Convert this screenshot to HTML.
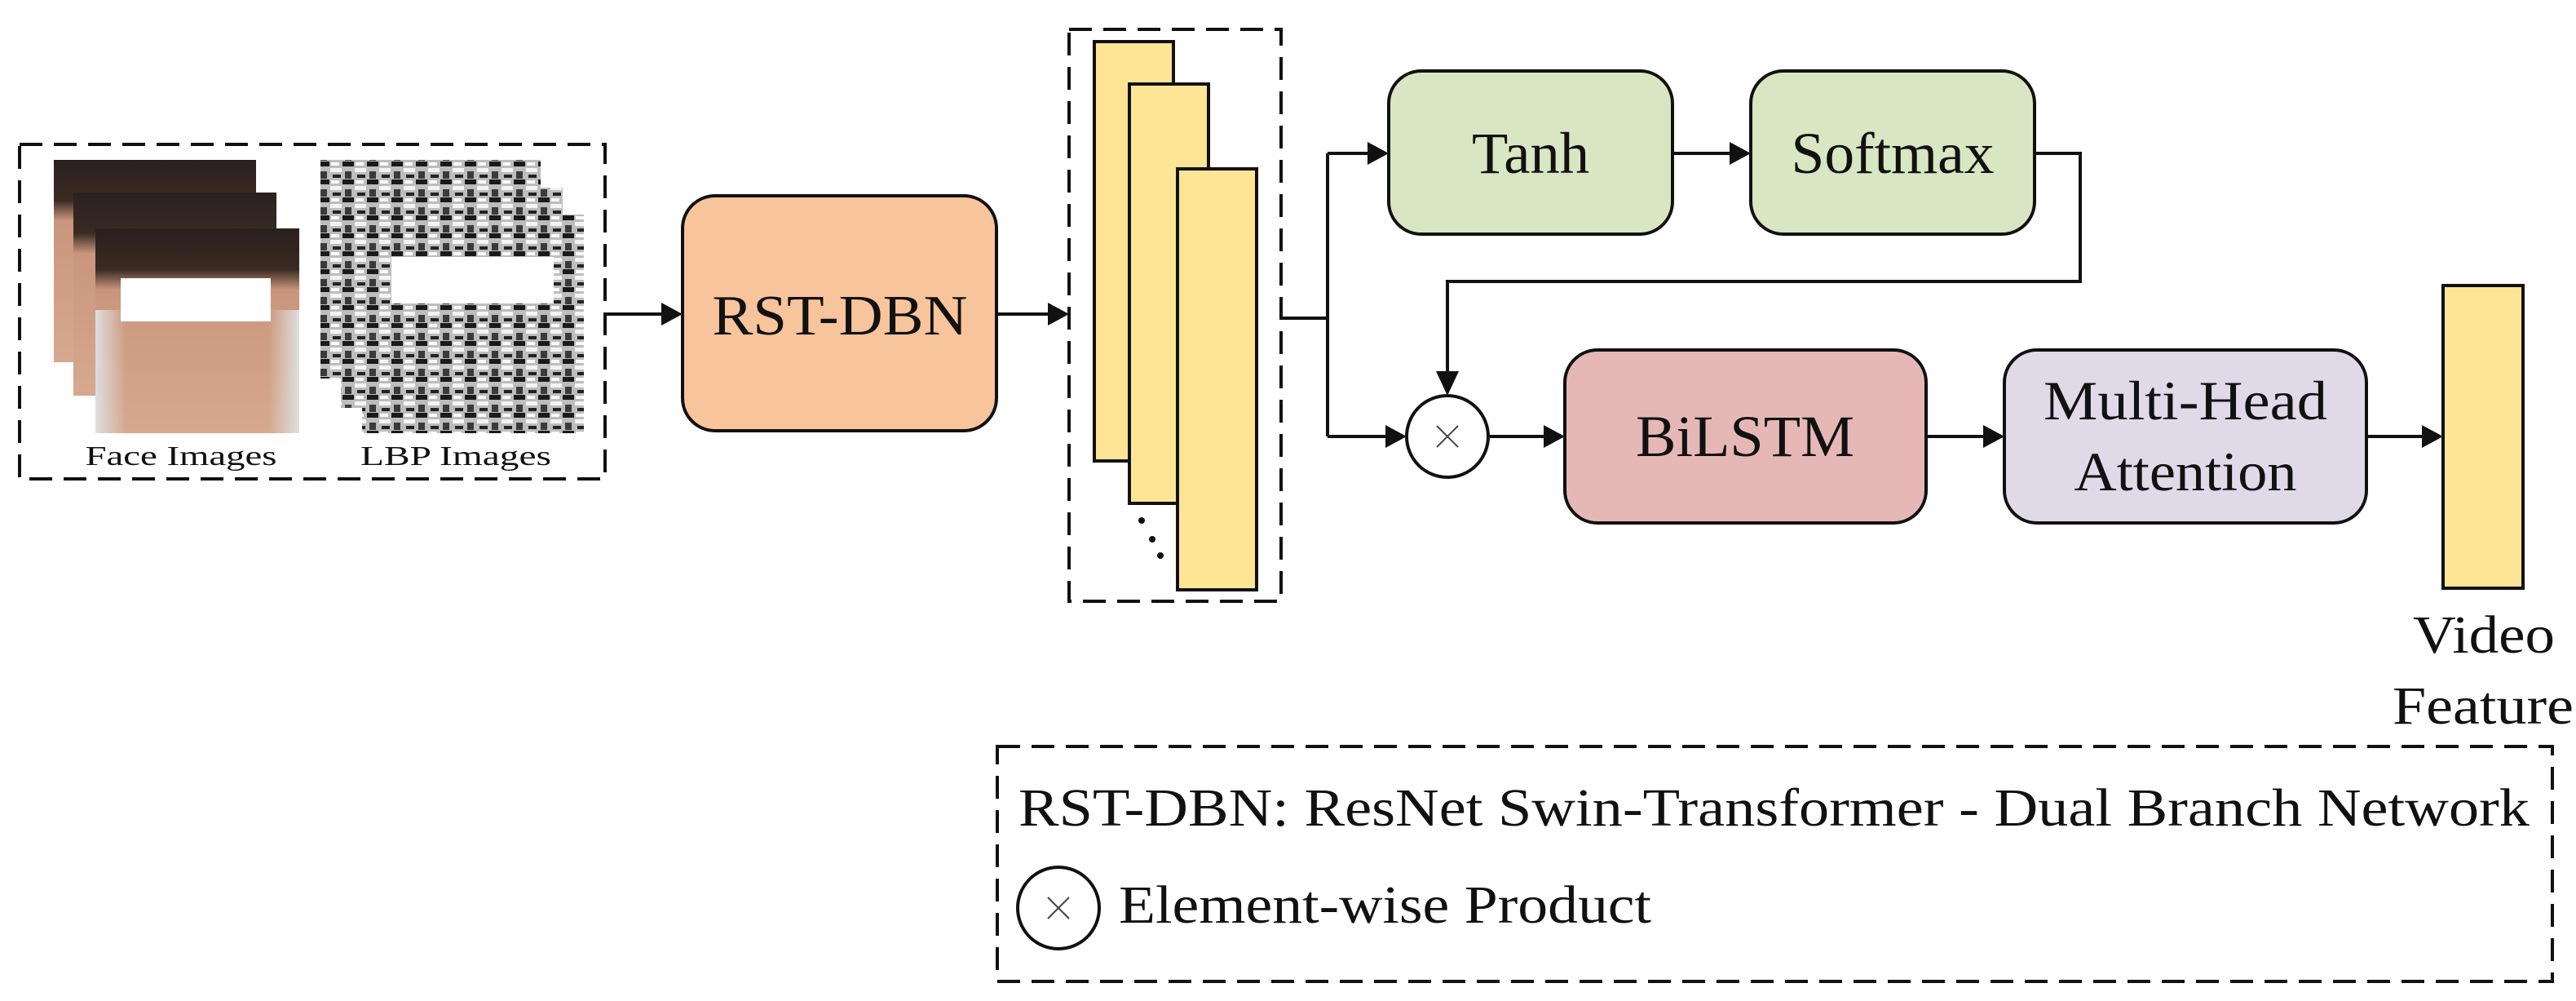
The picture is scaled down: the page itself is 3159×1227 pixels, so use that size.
<!DOCTYPE html>
<html><head><meta charset="utf-8"><style>
html,body{margin:0;padding:0;background:#fff;}
svg{display:block;}
text{font-family:"Liberation Serif","Times New Roman",serif;fill:#111;}
</style></head><body>
<svg width="3159" height="1227" viewBox="0 0 3159 1227" xmlns="http://www.w3.org/2000/svg">
<defs>
<pattern id="lbp" width="30" height="22" patternUnits="userSpaceOnUse">
<rect width="30" height="22" fill="#bdbdbd"/>
<rect x="0" y="0" width="14" height="6" fill="#1a1a1a"/>
<rect x="15" y="8" width="14" height="5" fill="#f4f4f4"/>
<rect x="3" y="12" width="8" height="9" fill="#3a3a3a"/>
<rect x="18" y="16" width="10" height="4" fill="#222"/>
<rect x="16" y="1" width="10" height="4" fill="#fafafa"/>
</pattern>
<linearGradient id="skin" x1="0" y1="0" x2="0" y2="1">
<stop offset="0" stop-color="#2a2020"/><stop offset="0.2" stop-color="#3a2a22"/>
<stop offset="0.3" stop-color="#c9967c"/><stop offset="1" stop-color="#d6a98f"/>
</linearGradient>
<linearGradient id="bg" x1="0" y1="0" x2="1" y2="0">
<stop offset="0" stop-color="#dedede"/><stop offset="0.15" stop-color="#dedede" stop-opacity="0"/>
<stop offset="0.85" stop-color="#dedede" stop-opacity="0"/><stop offset="1" stop-color="#dedede"/>
</linearGradient>
</defs>
<g fill="none" stroke="#111" stroke-width="4" stroke-dasharray="28,14">
<rect x="24" y="177" width="718" height="410"/>
<rect x="1311" y="36" width="260" height="701"/>
<rect x="1223" y="915" width="1907" height="288"/>
</g>
<rect x="66" y="196" width="248" height="248" fill="url(#skin)"/>
<rect x="90" y="236" width="249" height="249" fill="url(#skin)"/>
<rect x="117" y="280" width="250" height="251" fill="url(#skin)"/>
<rect x="117" y="380" width="250" height="151" fill="url(#bg)"/>
<rect x="148" y="341" width="184" height="53" fill="#fff"/>
<rect x="393" y="196" width="270" height="268" fill="url(#lbp)"/>
<rect x="418" y="230" width="272" height="270" fill="url(#lbp)"/>
<rect x="444" y="263" width="272" height="268" fill="url(#lbp)"/>
<rect x="480" y="315" width="199" height="57" fill="#fff"/>
<text x="222" y="570" font-size="34" text-anchor="middle" textLength="235" lengthAdjust="spacingAndGlyphs">Face Images</text>
<text x="559" y="570" font-size="34" text-anchor="middle" textLength="234" lengthAdjust="spacingAndGlyphs">LBP Images</text>
<rect x="837" y="240" width="385" height="288" rx="40" fill="#f8c49b" stroke="#111" stroke-width="4"/>
<text x="1030" y="410" font-size="70" text-anchor="middle" textLength="313" lengthAdjust="spacingAndGlyphs">RST-DBN</text>
<g fill="#fee596" stroke="#111" stroke-width="4">
<rect x="1342" y="51" width="97" height="514"/>
<rect x="1385" y="103" width="97" height="514"/>
<rect x="1444" y="207" width="97" height="516"/>
</g>
<g fill="#111"><circle cx="1400" cy="638" r="4"/><circle cx="1413" cy="661" r="4"/><circle cx="1423" cy="681" r="4"/></g>
<rect x="1703" y="87" width="348" height="200" rx="40" fill="#d9e6c3" stroke="#111" stroke-width="4"/>
<text x="1877" y="212" font-size="72" text-anchor="middle" textLength="144" lengthAdjust="spacingAndGlyphs">Tanh</text>
<rect x="2147" y="87" width="348" height="200" rx="40" fill="#d9e6c3" stroke="#111" stroke-width="4"/>
<text x="2321" y="212" font-size="72" text-anchor="middle" textLength="249" lengthAdjust="spacingAndGlyphs">Softmax</text>
<rect x="1919" y="429" width="443" height="212" rx="40" fill="#e6b8b5" stroke="#111" stroke-width="4"/>
<text x="2140" y="559" font-size="72" text-anchor="middle" textLength="268" lengthAdjust="spacingAndGlyphs">BiLSTM</text>
<rect x="2458" y="429" width="444" height="212" rx="40" fill="#e0d9e8" stroke="#111" stroke-width="4"/>
<text x="2680" y="514" font-size="68" text-anchor="middle" textLength="348" lengthAdjust="spacingAndGlyphs">Multi-Head</text>
<text x="2680" y="601" font-size="68" text-anchor="middle" textLength="273" lengthAdjust="spacingAndGlyphs">Attention</text>
<rect x="2996" y="350" width="98" height="371" fill="#fee596" stroke="#111" stroke-width="4"/>
<text x="3046" y="800" font-size="66" text-anchor="middle" textLength="174" lengthAdjust="spacingAndGlyphs">Video</text>
<text x="3045" y="887" font-size="66" text-anchor="middle" textLength="222" lengthAdjust="spacingAndGlyphs">Feature</text>
<circle cx="1775" cy="535" r="50" fill="#fff" stroke="#111" stroke-width="4"/>
<path d="M1762 522 L1788 548 M1788 522 L1762 548" stroke="#444" stroke-width="2"/>
<g fill="none" stroke="#111" stroke-width="4">
<path d="M742 385 H815"/>
<path d="M1222 385 H1289"/>
<path d="M1571 390 H1628 M1628 188 V535 M1628 188 H1680 M1628 535 H1702"/>
<path d="M2051 188 H2124"/>
<path d="M2495 188 H2551 V345 H1775 V456"/>
<path d="M1825 535 H1896"/>
<path d="M2362 535 H2435"/>
<path d="M2902 535 H2973"/>
</g>
<g fill="#111">
<path d="M837 385 l-26 -14 v28z"/>
<path d="M1311 385 l-26 -14 v28z"/>
<path d="M1703 188 l-26 -14 v28z"/>
<path d="M1725 535 l-26 -14 v28z"/>
<path d="M2147 188 l-26 -14 v28z"/>
<path d="M1775 485 l-14 -30 h28z"/>
<path d="M1919 535 l-26 -14 v28z"/>
<path d="M2458 535 l-26 -14 v28z"/>
<path d="M2996 535 l-26 -14 v28z"/>
</g>
<text x="1249" y="1012" font-size="66" textLength="1853" lengthAdjust="spacingAndGlyphs">RST-DBN: ResNet Swin-Transformer - Dual Branch Network</text>
<circle cx="1298" cy="1113" r="50" fill="#fff" stroke="#111" stroke-width="4"/>
<path d="M1285 1100 L1311 1126 M1311 1100 L1285 1126" stroke="#444" stroke-width="2"/>
<text x="1372" y="1131" font-size="66" textLength="653" lengthAdjust="spacingAndGlyphs">Element-wise Product</text>
</svg>
</body></html>
